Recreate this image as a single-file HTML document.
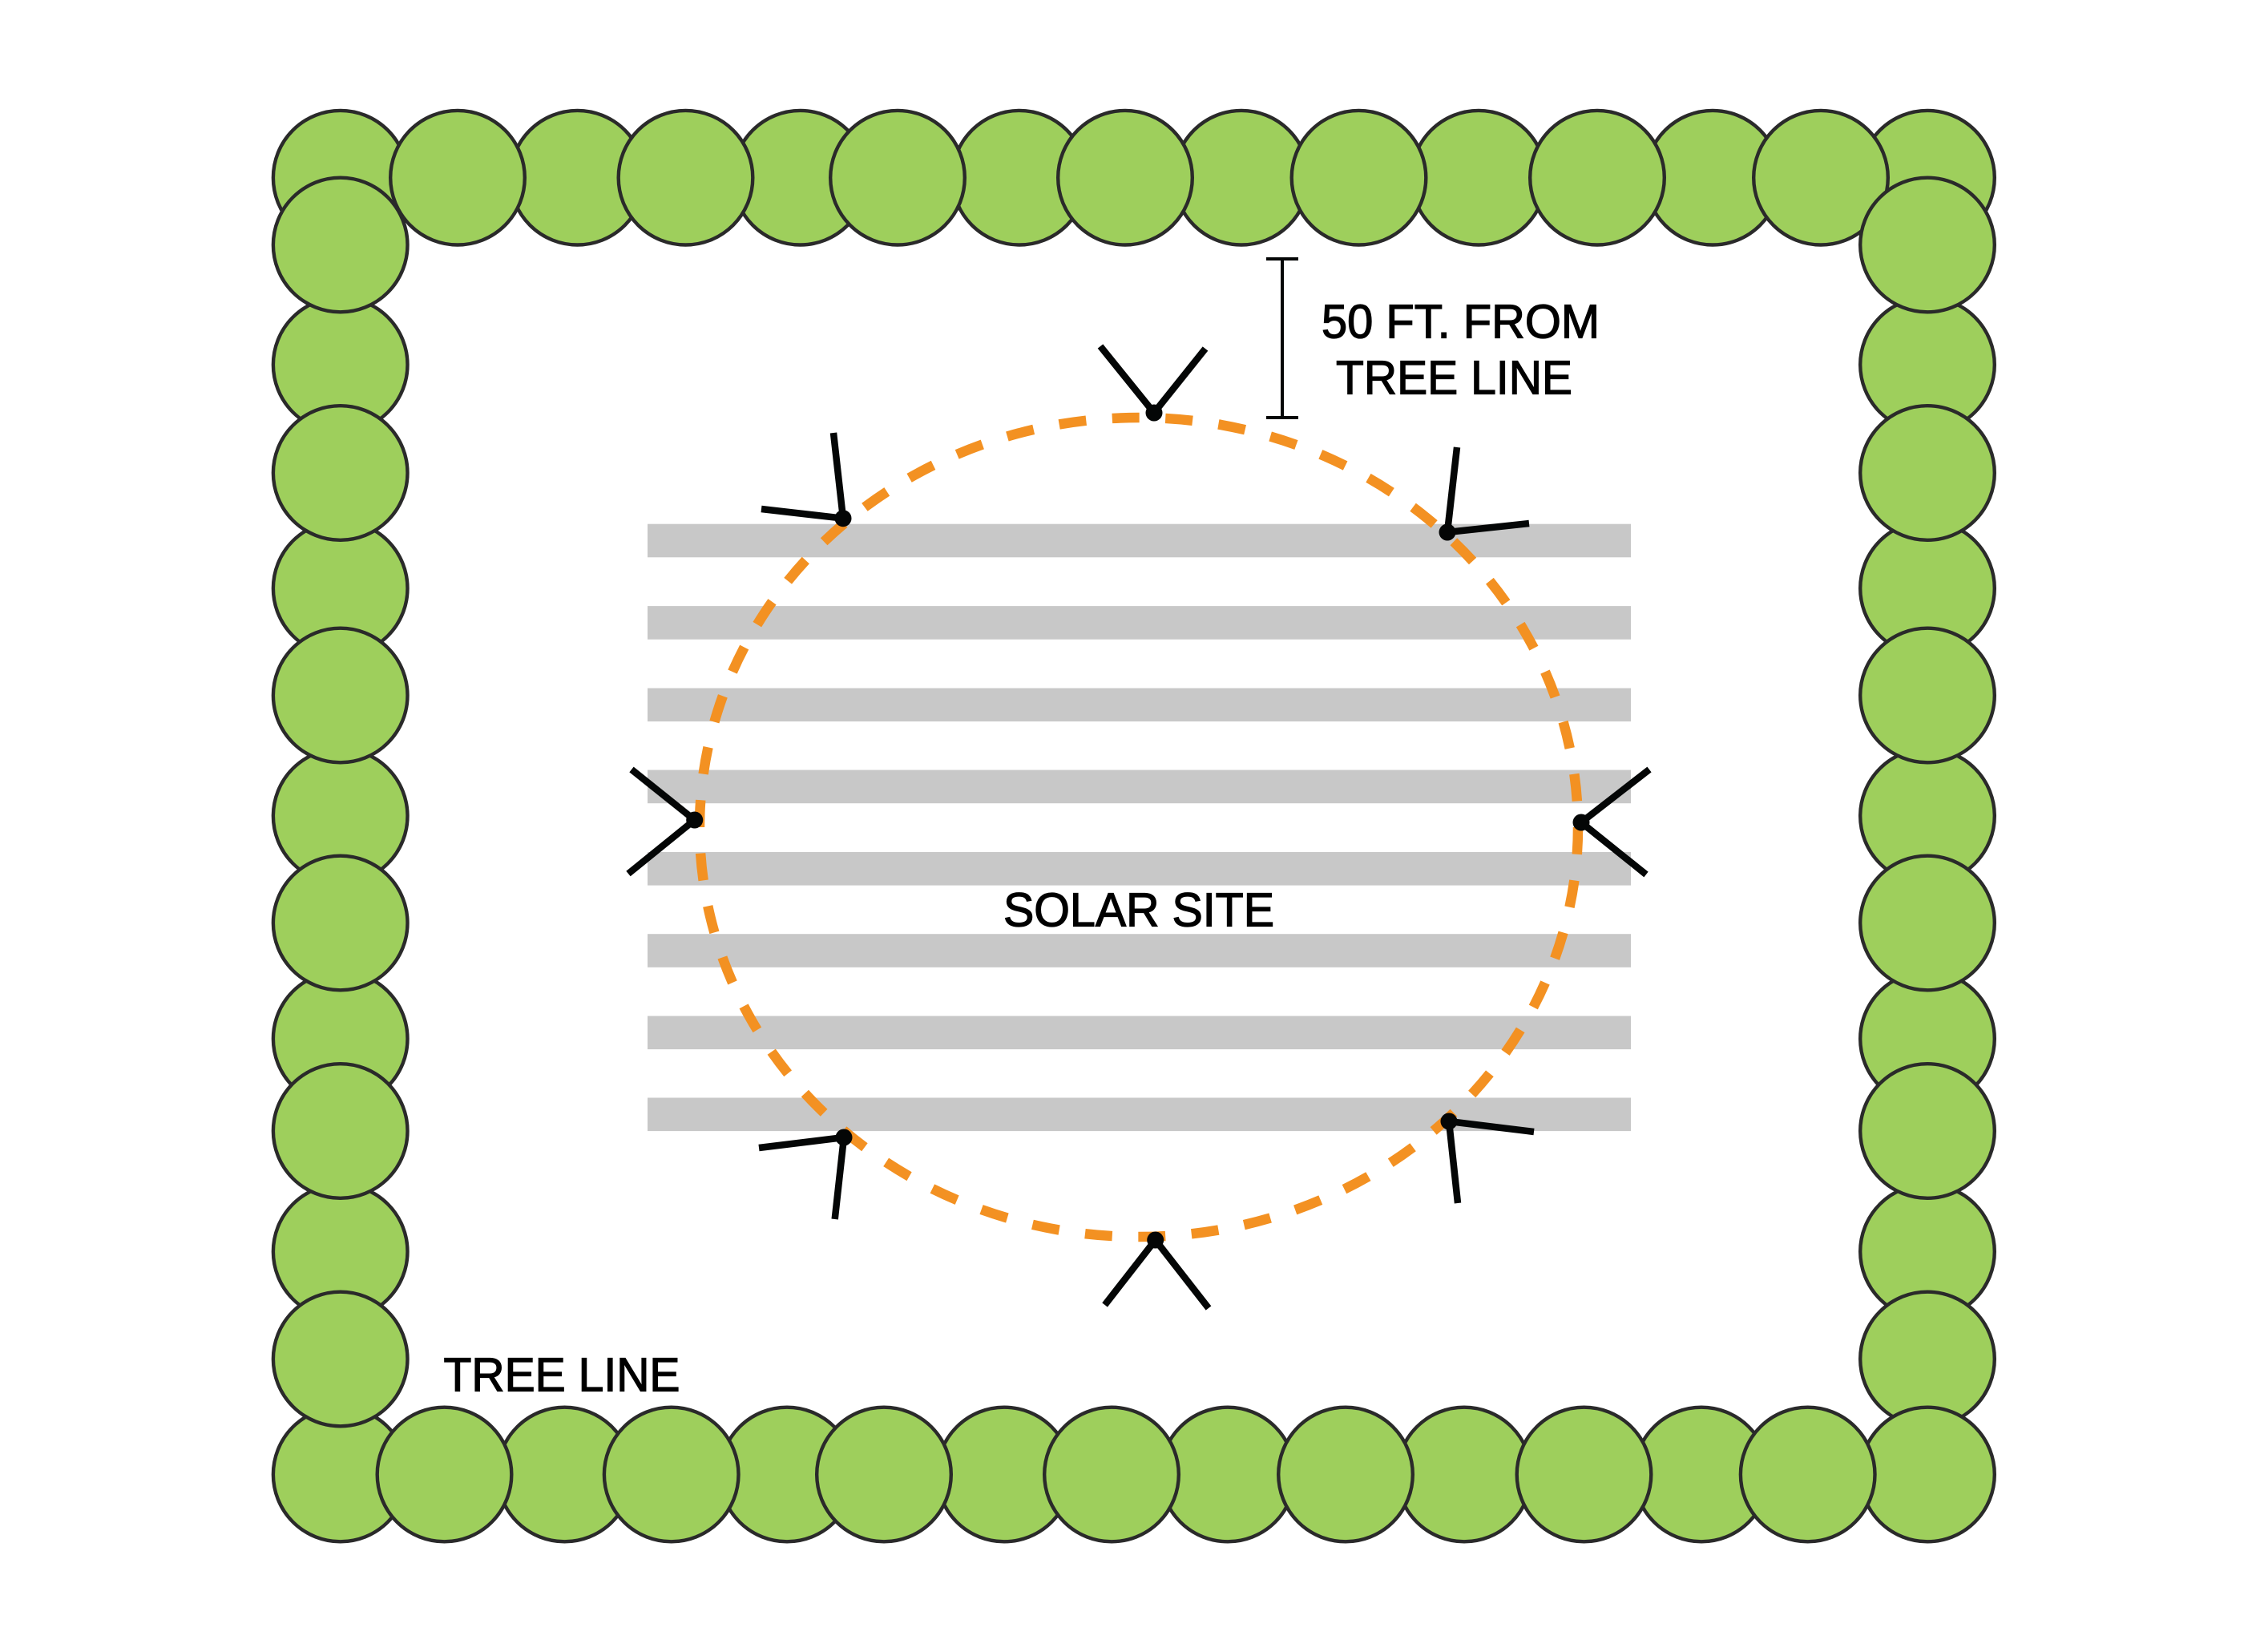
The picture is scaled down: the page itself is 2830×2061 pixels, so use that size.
<!DOCTYPE html>
<html>
<head>
<meta charset="utf-8">
<style>
html,body{margin:0;padding:0;background:#fff}
svg{display:block}
.t circle{fill:#9ecf5c;stroke:#2a2a2a;stroke-width:4.4}
text{font-family:"Liberation Sans",Arial,sans-serif;font-size:59px;fill:#000;stroke:#000;stroke-width:1.3}
.w line{stroke:#040606;stroke-width:8.5}
.w circle{fill:#040606}
</style>
</head>
<body>
<svg xmlns="http://www.w3.org/2000/svg" width="2830" height="2061" viewBox="0 0 2830 2061">
<rect width="2830" height="2061" fill="#fff"/>
<g class="t">
<!-- top back -->
<circle cx="424.7" cy="221.7" r="83.8"/><circle cx="720.5" cy="221.7" r="83.8"/><circle cx="998.5" cy="221.7" r="83.8"/><circle cx="1272" cy="221.7" r="83.8"/><circle cx="1549" cy="221.7" r="83.8"/><circle cx="1845" cy="221.7" r="83.8"/><circle cx="2137" cy="221.7" r="83.8"/><circle cx="2405" cy="221.7" r="83.8"/>
<!-- top front -->
<circle cx="571" cy="221.7" r="83.8"/><circle cx="855.5" cy="221.7" r="83.8"/><circle cx="1120" cy="221.7" r="83.8"/><circle cx="1404" cy="221.7" r="83.8"/><circle cx="1695.5" cy="221.7" r="83.8"/><circle cx="1993" cy="221.7" r="83.8"/><circle cx="2272" cy="221.7" r="83.8"/>
<!-- bottom-left corner -->
<circle cx="424.7" cy="1839.5" r="83.8"/>
<!-- right back -->
<circle cx="2405" cy="455" r="83.8"/><circle cx="2405" cy="734" r="83.8"/><circle cx="2405" cy="1018" r="83.8"/><circle cx="2405" cy="1296" r="83.8"/><circle cx="2405" cy="1561.5" r="83.8"/>
<!-- right front -->
<circle cx="2405" cy="305.5" r="83.8"/><circle cx="2405" cy="590" r="83.8"/><circle cx="2405" cy="867.5" r="83.8"/><circle cx="2405" cy="1151.5" r="83.8"/><circle cx="2405" cy="1411" r="83.8"/><circle cx="2405" cy="1695.5" r="83.8"/>
<!-- bottom back -->
<circle cx="2405" cy="1839.5" r="83.8"/><circle cx="704.5" cy="1839.5" r="83.8"/><circle cx="982" cy="1839.5" r="83.8"/><circle cx="1253" cy="1839.5" r="83.8"/><circle cx="1532" cy="1839.5" r="83.8"/><circle cx="1827" cy="1839.5" r="83.8"/><circle cx="2123" cy="1839.5" r="83.8"/>
<!-- bottom front -->
<circle cx="554.5" cy="1839.5" r="83.8"/><circle cx="837.7" cy="1839.5" r="83.8"/><circle cx="1103" cy="1839.5" r="83.8"/><circle cx="1387" cy="1839.5" r="83.8"/><circle cx="1679" cy="1839.5" r="83.8"/><circle cx="1976.5" cy="1839.5" r="83.8"/><circle cx="2255.7" cy="1839.5" r="83.8"/>
<!-- left back -->
<circle cx="424.7" cy="455" r="83.8"/><circle cx="424.7" cy="734" r="83.8"/><circle cx="424.7" cy="1018" r="83.8"/><circle cx="424.7" cy="1296" r="83.8"/><circle cx="424.7" cy="1561.5" r="83.8"/>
<!-- left front -->
<circle cx="424.7" cy="305.5" r="83.8"/><circle cx="424.7" cy="590" r="83.8"/><circle cx="424.7" cy="867.5" r="83.8"/><circle cx="424.7" cy="1151.5" r="83.8"/><circle cx="424.7" cy="1411" r="83.8"/><circle cx="424.7" cy="1695.5" r="83.8"/>
</g>
<!-- bars -->
<g fill="#c8c8c8">
<rect x="808" y="653.7" width="1227" height="41.6"/>
<rect x="808" y="756.1" width="1227" height="41.6"/>
<rect x="808" y="858.5" width="1227" height="41.6"/>
<rect x="808" y="960.6" width="1227" height="41.6"/>
<rect x="808" y="1063" width="1227" height="41.6"/>
<rect x="808" y="1165.2" width="1227" height="41.6"/>
<rect x="808" y="1267.5" width="1227" height="41.6"/>
<rect x="808" y="1369.5" width="1227" height="41.6"/>
</g>
<!-- orange dashed ellipse -->
<ellipse cx="1421" cy="1032" rx="548" ry="511" fill="none" stroke="#f39122" stroke-width="12.5" pathLength="50" stroke-dasharray=".51 .49"/>
<!-- turbines -->
<g class="w">
<line x1="1440" y1="515" x2="1373" y2="432"/><line x1="1440" y1="515" x2="1504" y2="435"/><circle cx="1440" cy="515" r="10.5"/>
<line x1="1806" y1="664" x2="1818" y2="558"/><line x1="1806" y1="664" x2="1908" y2="653"/><circle cx="1806" cy="664" r="10.5"/>
<line x1="1052" y1="646.7" x2="1040" y2="540"/><line x1="1052" y1="646.7" x2="950" y2="635"/><circle cx="1052" cy="646.7" r="10.5"/>
<line x1="866.7" y1="1023" x2="788" y2="960"/><line x1="866.7" y1="1023" x2="784" y2="1090"/><circle cx="866.7" cy="1023" r="10.5"/>
<line x1="1973" y1="1026" x2="2058" y2="960"/><line x1="1973" y1="1026" x2="2054" y2="1091"/><circle cx="1973" cy="1026" r="10.5"/>
<line x1="1053" y1="1419" x2="947" y2="1432"/><line x1="1053" y1="1419" x2="1041.7" y2="1521"/><circle cx="1053" cy="1419" r="10.5"/>
<line x1="1441.7" y1="1547" x2="1378.6" y2="1628"/><line x1="1441.7" y1="1547" x2="1508" y2="1632"/><circle cx="1441.7" cy="1547" r="10.5"/>
<line x1="1808" y1="1399" x2="1914" y2="1412"/><line x1="1808" y1="1399" x2="1819" y2="1501"/><circle cx="1808" cy="1399" r="10.5"/>
</g>
<!-- dimension bar -->
<g stroke="#040606" stroke-width="4" fill="none">
<line x1="1600" y1="322" x2="1600" y2="521"/>
<line x1="1580" y1="323" x2="1620" y2="323"/>
<line x1="1580" y1="521" x2="1620" y2="521"/>
</g>
<!-- labels -->
<text x="1649" y="421.7" textLength="347" lengthAdjust="spacingAndGlyphs">50 FT. FROM</text>
<text x="1667" y="491.7" textLength="295" lengthAdjust="spacingAndGlyphs">TREE LINE</text>
<text x="1252" y="1155.7" textLength="338" lengthAdjust="spacingAndGlyphs">SOLAR SITE</text>
<text x="553.5" y="1735.7" textLength="295" lengthAdjust="spacingAndGlyphs">TREE LINE</text>
</svg>
</body>
</html>
